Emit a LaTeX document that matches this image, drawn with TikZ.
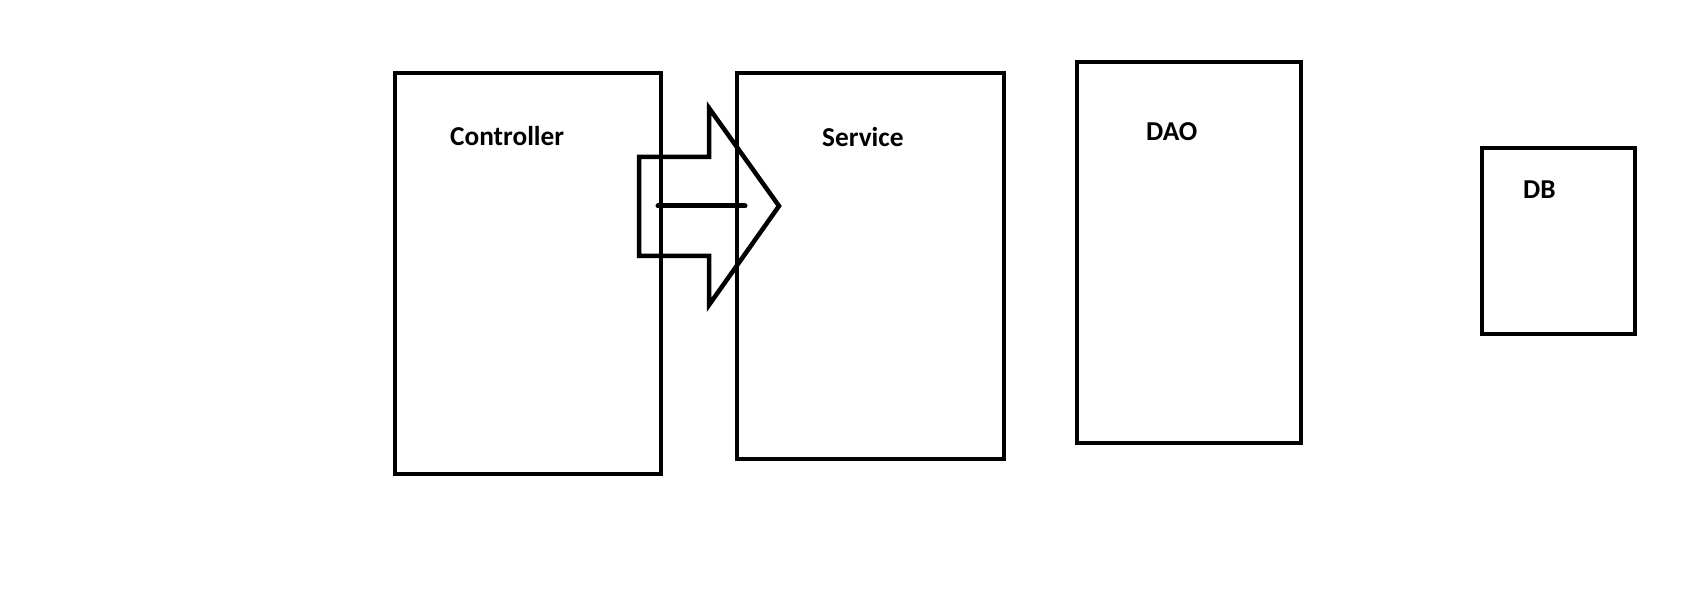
\documentclass[tikz,border=0pt]{standalone}
\usepackage{fontspec}
\setmainfont{Carlito}
\begin{document}
\begin{tikzpicture}[x=1pt,y=-1pt,
  box/.style={draw=black,line width=4.5pt,inner sep=0pt,fill=none},
  lbl/.style={anchor=base west,inner sep=0pt,font=\fontsize{27.3}{31}\selectfont\bfseries},
  arrowline/.style={draw=black,line width=4.5pt,line join=miter}]
\useasboundingbox[fill=white] (0,0) rectangle (1690,596);
% boxes
\node[box,minimum width=266pt,minimum height=401pt] (ctrl) at (528,273.5) {};
\node[box,minimum width=267pt,minimum height=386pt] (svc) at (870.5,266) {};
\node[box,minimum width=224pt,minimum height=381pt] (dao) at (1189,252.5) {};
\node[box,minimum width=153pt,minimum height=186pt] (db) at (1558.5,241) {};
% labels
\node[lbl] (tctrl) at (450,146) {Controller};
\node[lbl] (tsvc) at (822,147) {Service};
\node[lbl] (tdao) at (1146,141) {DAO};
\node[lbl] (tdb) at (1523,199) {DB};
% block arrow
\draw[arrowline] (639,157) -- (709,157) -- (709,108) -- (779,206) -- (709,305) -- (709,256) -- (639,256) -- cycle;
\coordinate (s) at (658,206);
\coordinate (e) at (745,206);
\draw[line width=5pt,line cap=round] (s) -- (e);
\end{tikzpicture}
\end{document}
